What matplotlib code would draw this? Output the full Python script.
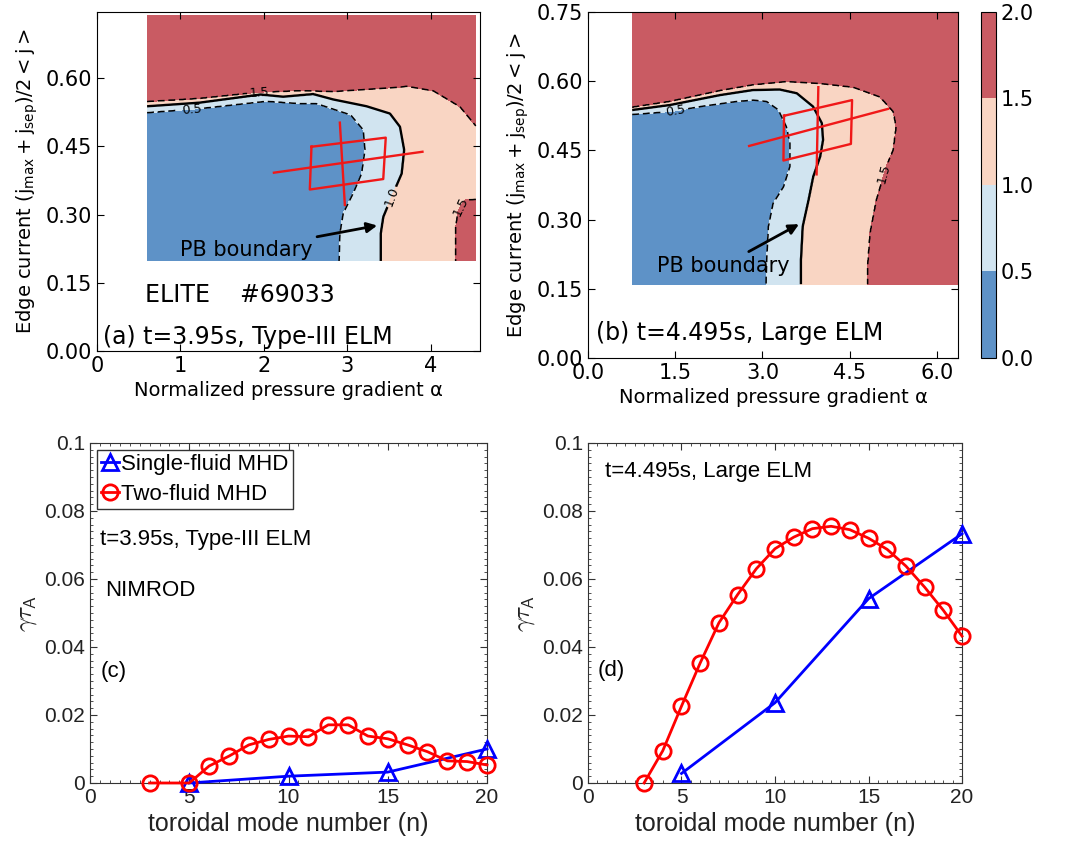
import numpy as np
import matplotlib
matplotlib.use('Agg')
import matplotlib.pyplot as plt
from matplotlib.path import Path
from matplotlib.colors import ListedColormap, BoundaryNorm
from matplotlib.ticker import AutoMinorLocator

# ---------------- ELITE growth-rate map, t=3.95s (a) ----------------
a_alpha_rng = (0.60, 4.54)
a_j_rng = (0.198, 0.738)
a05_x = [0.60, 1.23, 2.03, 2.43, 2.63, 3.04, 3.19, 3.21, 3.17, 3.07, 2.95, 2.91, 2.90]
a05_y = [0.524, 0.533, 0.549, 0.544, 0.544, 0.519, 0.486, 0.442, 0.390, 0.347, 0.303, 0.259, 0.198]
a10_x = [0.60, 1.23, 1.96, 2.23, 2.59, 2.83, 3.23, 3.51, 3.63, 3.68, 3.65, 3.53, 3.43, 3.40, 3.40]
a10_y = [0.538, 0.546, 0.564, 0.559, 0.565, 0.553, 0.538, 0.522, 0.493, 0.442, 0.390, 0.339, 0.295, 0.259, 0.198]
a15_x = [0.60, 1.23, 1.91, 2.43, 2.83, 3.23, 3.63, 3.71, 4.03, 4.35, 4.54]
a15_y = [0.548, 0.555, 0.568, 0.572, 0.570, 0.575, 0.580, 0.582, 0.572, 0.537, 0.495]
a15b_x = [4.54, 4.41, 4.33, 4.30, 4.30]
a15b_y = [0.333, 0.332, 0.310, 0.273, 0.198]
a_box_x = [2.57, 3.46, 3.43, 2.55, 2.57]
a_box_y = [0.449, 0.469, 0.378, 0.355, 0.449]
a_line1_x, a_line1_y = [2.12, 3.90], [0.392, 0.438]
a_line2_x, a_line2_y = [2.91, 2.97], [0.502, 0.321]

# ---------------- ELITE growth-rate map, t=4.495s (b) ----------------
b_alpha_rng = (0.76, 6.35)
b_j_rng = (0.16, 0.75)
b05_x = [0.76, 1.41, 1.98, 2.55, 2.84, 3.07, 3.27, 3.41, 3.47, 3.47, 3.36, 3.18, 3.10, 3.07, 3.06]
b05_y = [0.528, 0.534, 0.546, 0.556, 0.559, 0.556, 0.538, 0.501, 0.465, 0.415, 0.371, 0.335, 0.285, 0.2125, 0.16]
b10_x = [0.76, 1.41, 2.27, 2.84, 3.30, 3.59, 3.87, 4.02, 4.04, 3.99, 3.87, 3.79, 3.69, 3.66, 3.66]
b10_y = [0.5376, 0.5485, 0.570, 0.581, 0.582, 0.574, 0.545, 0.509, 0.4726, 0.4365, 0.393, 0.3425, 0.285, 0.2125, 0.16]
b15_x = [0.76, 1.41, 2.27, 2.84, 3.41, 3.99, 4.56, 5.02, 5.25, 5.30, 5.25, 5.13, 4.96, 4.85, 4.81, 4.81]
b15_y = [0.5434, 0.556, 0.5795, 0.592, 0.599, 0.595, 0.587, 0.566, 0.534, 0.501, 0.451, 0.415, 0.3425, 0.270, 0.198, 0.16]
b_box_x = [3.37, 4.54, 4.52, 3.36, 3.37]
b_box_y = [0.525, 0.559, 0.464, 0.428, 0.525]
b_line1_x, b_line1_y = [2.77, 5.16], [0.4596, 0.540]
b_line2_x, b_line2_y = [3.96, 3.93], [0.587, 0.398]

# ---------------- NIMROD growth rates ----------------
c_two_n = [3, 5, 6, 7, 8, 9, 10, 11, 12, 13, 14, 15, 16, 17, 18, 19, 20]
c_two_g = [0, 0, 0.0050, 0.0079, 0.0112, 0.0128, 0.0138, 0.0136, 0.0171, 0.0171,
           0.0138, 0.0130, 0.0112, 0.0092, 0.0065, 0.0063, 0.0053]
c_one_n = [5, 10, 15, 20]
c_one_g = [0, 0.0020, 0.0032, 0.0100]
d_two_n = [3, 4, 5, 6, 7, 8, 9, 10, 11, 12, 13, 14, 15, 16, 17, 18, 19, 20]
d_two_g = [0, 0.0095, 0.0226, 0.0353, 0.0471, 0.0554, 0.0630, 0.0689, 0.0723, 0.0748,
           0.0755, 0.0745, 0.0720, 0.0687, 0.0638, 0.0576, 0.0508, 0.0432]
d_one_n = [5, 10, 15, 20]
d_one_g = [0.0028, 0.0236, 0.0542, 0.0733]

levels = [0.0, 0.5, 1.0, 1.5, 2.0]
cmap = ListedColormap(['#5e92c7', '#d1e4f0', '#f9d5c3', '#c95b63'])
norm = BoundaryNorm(levels, cmap.N)


def polyline_dist(X, Y, cx, cy, sy):
    d = np.full(X.shape, np.inf)
    for x0, y0, x1, y1 in zip(cx[:-1], cy[:-1], cx[1:], cy[1:]):
        dx, dy = x1 - x0, (y1 - y0) * sy
        px, py = X - x0, (Y - y0) * sy
        t = np.clip((px * dx + py * dy) / (dx * dx + dy * dy), 0, 1)
        d = np.minimum(d, np.hypot(px - t * dx, py - t * dy))
    return d


def below_poly(curves):
    # region under a boundary: curve(s) closed through points outside the grid
    verts = [(-9, curves[0][1][0])]
    for k, (cx, cy) in enumerate(curves):
        if k > 0:
            verts += [(19, curves[k - 1][1][-1]), (19, cy[0])]
        verts += list(zip(cx, cy))
    verts += [(curves[-1][0][-1], -9), (-9, -9)]
    return Path(verts)


def ratio_map(arng, jrng, bounds, sy):
    A, J = np.meshgrid(np.linspace(*arng, 450), np.linspace(*jrng, 450))
    pts = np.column_stack([A.ravel(), J.ravel()])
    dist, outside = [], []
    for curves in bounds:
        dist.append(np.min([polyline_dist(A, J, cx, cy, sy) for cx, cy in curves], axis=0))
        outside.append(~below_poly(curves).contains_points(pts).reshape(A.shape))
    r = np.sum(outside, axis=0)
    eps = 1e-9
    V = np.where(r == 0, 0.5 - 0.49 * np.tanh(dist[0] * 4), 0)
    V = np.where(r == 1, 0.5 + 0.5 * dist[0] / (dist[0] + dist[1] + eps), V)
    V = np.where(r == 2, 1.0 + 0.5 * dist[1] / (dist[1] + dist[2] + eps), V)
    V = np.where(r == 3, 1.5 + 0.49 * np.tanh(dist[2] * 4), V)
    return A, J, V


def elite_panel(ax, A, J, V, label_pos):
    cf = ax.contourf(A, J, V, levels=levels, cmap=cmap, norm=norm)
    cs = ax.contour(A, J, V, levels=[0.5, 1.0, 1.5], colors='k',
                    linestyles=[(0, (4.5, 2.5)), '-', (0, (4.5, 2.5))],
                    linewidths=[1.1, 1.7, 1.1])
    ax.clabel(cs, fmt='%.1f', fontsize=9, inline=True, manual=label_pos)
    ax.tick_params(direction='in', top=True, right=True, length=5, labelsize=15)
    ax.set_xlabel('Normalized pressure gradient α', fontsize=14)
    return cf


plt.rcParams['font.family'] = ['DejaVu Sans']
plt.rcParams['mathtext.fontset'] = 'dejavusans'
fig = plt.figure(figsize=(10.72, 8.56), dpi=100)

# panel (a)
ax_a = fig.add_axes([0.0905, 0.5899, 0.3573, 0.396])
A, J, V = ratio_map(a_alpha_rng, a_j_rng,
                    [[(a05_x, a05_y)], [(a10_x, a10_y)], [(a15_x, a15_y), (a15b_x, a15b_y)]], 5.45)
elite_panel(ax_a, A, J, V, [(1.95, 0.568), (1.13, 0.532), (3.53, 0.339), (4.36, 0.318)])
ax_a.plot(a_box_x, a_box_y, color='#f01818', lw=1.7)
ax_a.plot(a_line1_x, a_line1_y, color='#f01818', lw=1.7)
ax_a.plot(a_line2_x, a_line2_y, color='#f01818', lw=1.7)
ax_a.annotate('PB boundary', xy=(3.39, 0.277), xytext=(0.99, 0.222), fontsize=15,
              va='center', ha='left',
              arrowprops=dict(arrowstyle='-|>', color='k', lw=2, mutation_scale=15, shrinkA=2))
ax_a.text(0.575, 0.123, 'ELITE    #69033', fontsize=17, va='center')
ax_a.text(0.07, 0.0315, '(a) t=3.95s, Type-III ELM', fontsize=17, va='center')
ax_a.set_xlim(0, 4.59)
ax_a.set_ylim(0, 0.745)
ax_a.set_xticks([0, 1, 2, 3, 4])
ax_a.set_yticks([0.0, 0.15, 0.30, 0.45, 0.60])
ax_a.set_yticklabels(['0.00', '0.15', '0.30', '0.45', '0.60'])
ax_a.set_ylabel(r'Edge current $(\mathregular{j_{max}+j_{sep}})/2<\mathregular{j}>$', fontsize=14)

# panel (b)
ax_b = fig.add_axes([0.5485, 0.5818, 0.3451, 0.4042])
A, J, V = ratio_map(b_alpha_rng, b_j_rng,
                    [[(b05_x, b05_y)], [(b10_x, b10_y)], [(b15_x, b15_y)]], 7.93)
cf = elite_panel(ax_b, A, J, V, [(1.5, 0.535), (5.12, 0.40)])
ax_b.plot(b_box_x, b_box_y, color='#f01818', lw=1.7)
ax_b.plot(b_line1_x, b_line1_y, color='#f01818', lw=1.7)
ax_b.plot(b_line2_x, b_line2_y, color='#f01818', lw=1.7)
ax_b.annotate('PB boundary', xy=(3.67, 0.293), xytext=(1.18, 0.20), fontsize=15,
              va='center', ha='left',
              arrowprops=dict(arrowstyle='-|>', color='k', lw=2, mutation_scale=15, shrinkA=2))
ax_b.text(0.14, 0.054, '(b) t=4.495s, Large ELM', fontsize=17, va='center')
ax_b.set_xlim(0, 6.36)
ax_b.set_ylim(0, 0.75)
ax_b.set_xticks([0, 1.5, 3.0, 4.5, 6.0])
ax_b.set_xticklabels(['0.0', '1.5', '3.0', '4.5', '6.0'])
ax_b.set_yticks([0.0, 0.15, 0.30, 0.45, 0.60, 0.75])
ax_b.set_yticklabels(['0.00', '0.15', '0.30', '0.45', '0.60', '0.75'])
ax_b.set_ylabel(r'Edge current $(\mathregular{j_{max}+j_{sep}})/2<\mathregular{j}>$', fontsize=14)

cax = fig.add_axes([0.9151, 0.5818, 0.014, 0.4042])
cb = fig.colorbar(cf, cax=cax, ticks=levels)
cb.ax.set_yticklabels(['0.0', '0.5', '1.0', '1.5', '2.0'])
cb.ax.tick_params(labelsize=15, length=0)
cb.outline.set_linewidth(0.8)

# NIMROD panels
def nimrod_panel(ax):
    ax.set_xlim(0, 20)
    ax.set_ylim(0, 0.1)
    ax.set_xticks([0, 5, 10, 15, 20])
    ax.set_yticks([0, 0.02, 0.04, 0.06, 0.08, 0.1])
    ax.set_yticklabels(['0', '0.02', '0.04', '0.06', '0.08', '0.1'])
    ax.xaxis.set_minor_locator(AutoMinorLocator(10))
    ax.yaxis.set_minor_locator(AutoMinorLocator(10))
    ax.tick_params(which='both', direction='in', top=True, right=True,
                   labelsize=15, color='#333333', labelcolor='#222222')
    ax.tick_params(which='major', length=5)
    ax.tick_params(which='minor', length=2)
    for s in ax.spines.values():
        s.set_color('#333333')
    ax.set_xlabel('toroidal mode number (n)', fontsize=18, color='#222222')
    ax.set_ylabel(r'$\gamma\tau_{\mathsf{A}}$', fontsize=18, math_fontfamily='cm',
                  color='#222222')


sans = ['Liberation Sans', 'DejaVu Sans']
ax_c = fig.add_axes([0.084, 0.0853, 0.3703, 0.3972])
ax_c.plot(c_one_n, c_one_g, '-^', color='#0000ff', lw=2, ms=12, mfc='none', mew=2,
          label='Single-fluid MHD', clip_on=False, zorder=3)
ax_c.plot(c_two_n, c_two_g, '-o', color='#ff0000', lw=2, ms=11, mfc='none', mew=2,
          label='Two-fluid MHD', clip_on=False, zorder=4)
nimrod_panel(ax_c)
ax_c.legend(loc='upper left', prop={'family': sans, 'size': 16}, numpoints=1,
            handlelength=0.8, handletextpad=0.1, labelspacing=0.4, borderpad=0.2,
            borderaxespad=0.3, fancybox=False, edgecolor='#333333', framealpha=1)
ax_c.text(0.5, 0.0717, 't=3.95s, Type-III ELM', fontsize=16, va='center', family=sans)
ax_c.text(0.76, 0.0566, 'NIMROD', fontsize=16, va='center', family=sans)
ax_c.text(0.55, 0.0327, '(c)', fontsize=16, va='center', family=sans)

ax_d = fig.add_axes([0.5485, 0.0853, 0.3489, 0.3972])
ax_d.plot(d_one_n, d_one_g, '-^', color='#0000ff', lw=2, ms=12, mfc='none', mew=2,
          clip_on=False, zorder=3)
ax_d.plot(d_two_n, d_two_g, '-o', color='#ff0000', lw=2, ms=11, mfc='none', mew=2,
          clip_on=False, zorder=4)
nimrod_panel(ax_d)
ax_d.text(0.91, 0.0916, 't=4.495s, Large ELM', fontsize=16, va='center', family=sans)
ax_d.text(0.5, 0.0332, '(d)', fontsize=16, va='center', family=sans)

for ax in (ax_c, ax_d):
    for lab in ax.get_xticklabels() + ax.get_yticklabels():
        lab.set_family(sans)
    ax.xaxis.label.set_family(sans)

fig.savefig('out.png', dpi=100)
